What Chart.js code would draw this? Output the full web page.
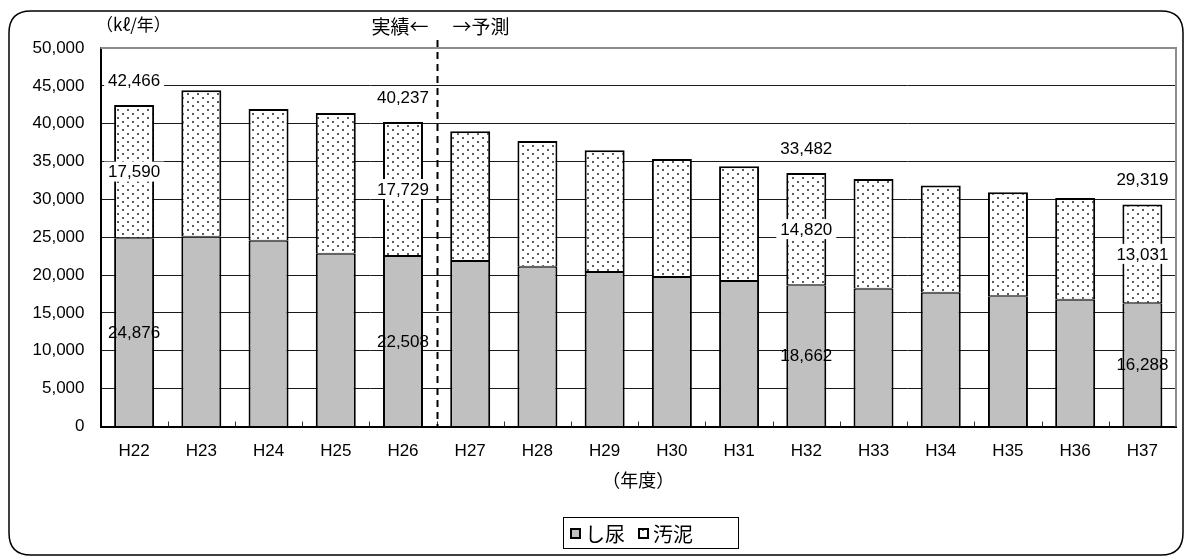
<!DOCTYPE html>
<html lang="ja">
<head>
<meta charset="utf-8">
<title>し尿・汚泥 処理量の推移</title>
<script src="https://cdn.jsdelivr.net/npm/chart.js@4.4.1/dist/chart.umd.min.js"></script>
<style>
  html, body { margin: 0; padding: 0; background: #fff; }
  #wrap { width: 1186px; height: 558px; position: relative; }
</style>
</head>
<body>
<div id="wrap"><canvas id="c" width="1186" height="558"></canvas></div>
<script>
// ---- data ----
const years = ['H22', 'H23', 'H24', 'H25', 'H26', 'H27', 'H28', 'H29',
               'H30', 'H31', 'H32', 'H33', 'H34', 'H35', 'H36', 'H37'];
// し尿 (kℓ/年)
const shinyo = [24876, 25070, 24540, 22820, 22508, 21850, 21110, 20400,
                19740, 19210, 18662, 18200, 17670, 17190, 16740, 16288];
// 汚泥 (kℓ/年)
const odei = [17590, 19350, 17390, 18580, 17729, 17160, 16590, 16080,
              15600, 15160, 14820, 14500, 14150, 13740, 13450, 13031];
// years whose values are printed on the bars
const labelledYears = ['H22', 'H26', 'H32', 'H37'];
// last year of actual results; later years are forecasts
const lastActualYear = 'H26';
const yMax = 50000;
const yStep = 5000;
const seriesNames = ['し尿', '汚泥'];
const unitText = '（kℓ/年）';
const actualText = '実績←';
const forecastText = '→予測';
const xTitleText = '（年度）';

const NUM_FONT = "'Liberation Sans', Arial, 'Noto Sans CJK JP', sans-serif";
const JP_FONT = "'Noto Sans CJK JP', 'Noto Sans CJK SC', sans-serif";

const canvas = document.getElementById('c');
const ctx0 = canvas.getContext('2d');

// white fill with small staggered dots
function makeDotPattern() {
  const t = document.createElement('canvas');
  t.width = 10; t.height = 8;
  const g = t.getContext('2d');
  g.fillStyle = '#ffffff';
  g.fillRect(0, 0, 10, 8);
  g.fillStyle = '#5a5a5a';
  g.fillRect(2, 1, 2, 2);
  g.fillRect(7, 5, 2, 2);
  return ctx0.createPattern(t, 'repeat');
}
const dots = makeDotPattern();

const fmt = v => v.toLocaleString('en-US');

// rounded outer frame + white background
const framePlugin = {
  id: 'frame',
  beforeDraw(chart) {
    const ctx = chart.ctx;
    ctx.save();
    ctx.fillStyle = '#fff';
    ctx.fillRect(0, 0, chart.width, chart.height);
    const x = 9, y = 11, w = 1174, h = 544, r = 22;
    ctx.beginPath();
    ctx.moveTo(x + r, y);
    ctx.lineTo(x + w - r, y);
    ctx.quadraticCurveTo(x + w, y, x + w, y + r);
    ctx.lineTo(x + w, y + h - r);
    ctx.quadraticCurveTo(x + w, y + h, x + w - r, y + h);
    ctx.lineTo(x + r, y + h);
    ctx.quadraticCurveTo(x, y + h, x, y + h - r);
    ctx.lineTo(x, y + r);
    ctx.quadraticCurveTo(x, y, x + r, y);
    ctx.closePath();
    ctx.lineWidth = 1.5;
    ctx.strokeStyle = '#000';
    ctx.stroke();
    ctx.restore();
  }
};

// plot border (top/right), inner category ticks
const plotDecorPlugin = {
  id: 'plotDecor',
  beforeDatasetsDraw(chart) {
    const { ctx, chartArea: a, scales: { x } } = chart;
    ctx.save();
    ctx.strokeStyle = '#8c8c8c';
    ctx.lineWidth = 2;
    ctx.beginPath();
    ctx.moveTo(a.left, a.top);
    ctx.lineTo(a.right, a.top);
    ctx.lineTo(a.right, a.bottom);
    ctx.stroke();
    // small upward ticks between categories
    ctx.strokeStyle = '#333';
    ctx.lineWidth = 1;
    const half = (x.getPixelForValue(1) - x.getPixelForValue(0)) / 2;
    for (let i = 1; i < years.length; i++) {
      const px = Math.round(x.getPixelForValue(i) - half) + 0.5;
      ctx.beginPath();
      ctx.moveTo(px, a.bottom);
      ctx.lineTo(px, a.bottom - 5);
      ctx.stroke();
    }
    ctx.restore();
  }
};

function drawValueLabel(ctx, text, cx, cy, withBox) {
  ctx.font = '17px ' + NUM_FONT;
  const w = ctx.measureText(text).width;
  if (withBox) {
    ctx.fillStyle = '#fff';
    ctx.fillRect(cx - w / 2 - 4, cy - 10, w + 8, 20);
  }
  ctx.fillStyle = '#000';
  ctx.textAlign = 'center';
  ctx.textBaseline = 'middle';
  ctx.fillText(text, cx, cy + 1);
}

// value labels, texts, divider and legend
const annotatePlugin = {
  id: 'annotate',
  afterDatasetsDraw(chart) {
    const { ctx, chartArea: a, scales: { x } } = chart;
    ctx.save();

    // divider between actual and forecast
    const k = years.indexOf(lastActualYear);
    const dx = Math.round((x.getPixelForValue(k) + x.getPixelForValue(k + 1)) / 2) + 0.5;
    ctx.strokeStyle = '#000';
    ctx.lineWidth = 2;
    ctx.setLineDash([7, 5]);
    ctx.beginPath();
    ctx.moveTo(dx, 40);
    ctx.lineTo(dx, a.bottom);
    ctx.stroke();
    ctx.setLineDash([]);

    // bar values
    const m0 = chart.getDatasetMeta(0);
    const m1 = chart.getDatasetMeta(1);
    labelledYears.forEach(yr => {
      const i = years.indexOf(yr);
      const b0 = m0.data[i], b1 = m1.data[i];
      drawValueLabel(ctx, fmt(shinyo[i]), b0.x, (b0.y + b0.base) / 2, false);
      drawValueLabel(ctx, fmt(odei[i]), b1.x, (b1.y + b1.base) / 2, true);
      drawValueLabel(ctx, fmt(shinyo[i] + odei[i]), b1.x, b1.y - 25, true);
    });

    // headings
    ctx.fillStyle = '#000';
    ctx.textBaseline = 'middle';
    ctx.font = '17px ' + JP_FONT;
    ctx.textAlign = 'left';
    ctx.fillText(unitText, 96, 25);
    ctx.font = '19px ' + JP_FONT;
    ctx.textAlign = 'right';
    ctx.fillText(actualText, dx - 9, 27);
    ctx.textAlign = 'left';
    ctx.fillText(forecastText, dx + 15, 27);

    // x axis title
    ctx.font = '18px ' + JP_FONT;
    ctx.textAlign = 'center';
    ctx.fillText(xTitleText, (a.left + a.right) / 2, 480);

    // legend
    ctx.fillStyle = '#fff';
    ctx.fillRect(563, 517, 175, 31);
    ctx.strokeStyle = '#000';
    ctx.lineWidth = 1;
    ctx.strokeRect(563.5, 517.5, 175, 31);
    const items = chart.data.datasets.map(ds => ({ label: ds.label, fill: ds.backgroundColor }));
    const sx = [570, 638];
    items.forEach((it, j) => {
      ctx.fillStyle = it.fill;
      ctx.fillRect(sx[j], 528, 11, 11);
      ctx.strokeStyle = '#000';
      ctx.lineWidth = 2;
      ctx.strokeRect(sx[j] + 1, 529, 9, 9);
      ctx.fillStyle = '#000';
      ctx.font = '20px ' + JP_FONT;
      ctx.textAlign = 'left';
      ctx.textBaseline = 'middle';
      ctx.fillText(it.label, sx[j] + 15, 534);
    });

    ctx.restore();
  }
};

new Chart(canvas, {
  type: 'bar',
  data: {
    labels: years,
    datasets: [
      {
        label: seriesNames[0],
        data: shinyo,
        backgroundColor: '#c0c0c0',
        borderColor: '#000',
        borderWidth: { top: 1, left: 2, right: 2, bottom: 0 },
        borderSkipped: false
      },
      {
        label: seriesNames[1],
        data: odei,
        backgroundColor: dots,
        borderColor: '#000',
        borderWidth: { top: 2, left: 2, right: 2, bottom: 1 },
        borderSkipped: false
      }
    ]
  },
  options: {
    responsive: false,
    animation: false,
    devicePixelRatio: 1,
    layout: { padding: { top: 48, right: 10, left: 0, bottom: 0 } },
    datasets: { bar: { categoryPercentage: 1, barPercentage: 0.595 } },
    plugins: {
      legend: { display: false },
      tooltip: { enabled: false }
    },
    scales: {
      x: {
        stacked: true,
        offset: true,
        grid: { display: false, drawTicks: false },
        border: { display: true, color: '#000', width: 2 },
        ticks: {
          color: '#000',
          font: { family: NUM_FONT, size: 17 },
          padding: 15,
          maxRotation: 0,
          autoSkip: false
        },
        afterFit(scale) { scale.height = 131.5; }
      },
      y: {
        stacked: true,
        min: 0,
        max: yMax,
        grid: {
          color: c => (c.tick && c.tick.value === yMax) ? 'rgba(0,0,0,0)' : '#1a1a1a',
          lineWidth: 1,
          drawTicks: false
        },
        border: { display: true, color: '#000', width: 2 },
        ticks: {
          stepSize: yStep,
          color: '#000',
          font: { family: NUM_FONT, size: 17 },
          padding: 16,
          callback: v => fmt(v)
        },
        afterFit(scale) { scale.width = 100.5; }
      }
    }
  },
  plugins: [framePlugin, plotDecorPlugin, annotatePlugin]
});
</script>
</body>
</html>
